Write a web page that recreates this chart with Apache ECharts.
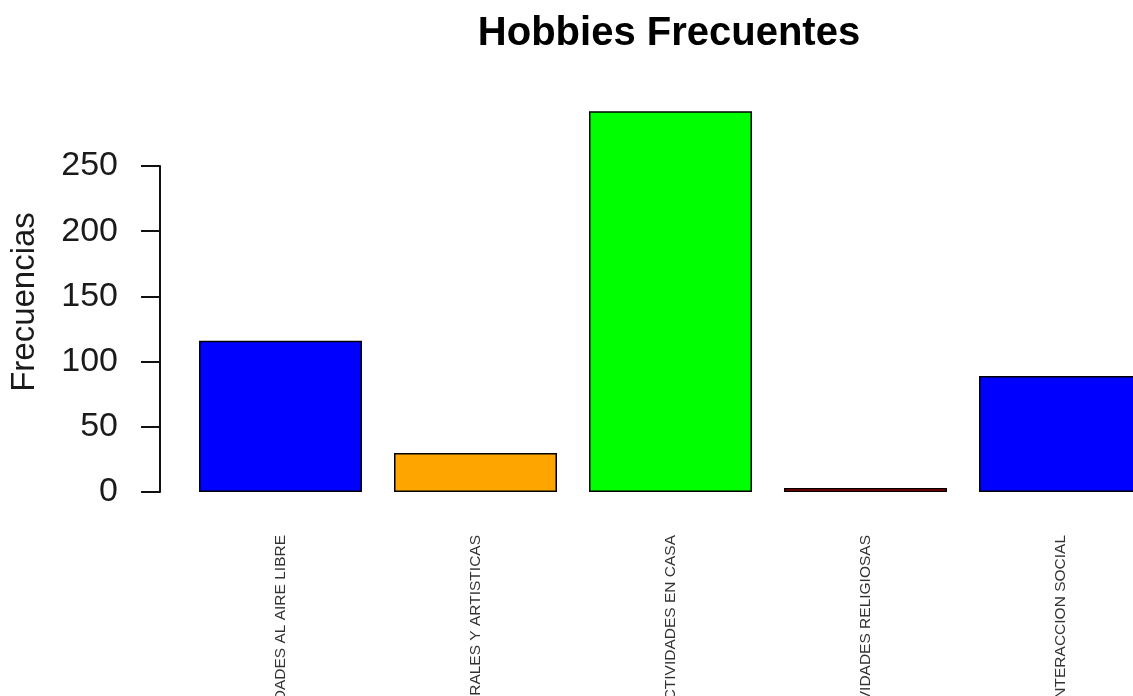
<!DOCTYPE html>
<html>
<head>
<meta charset="utf-8">
<title>Hobbies Frecuentes</title>
<script src="https://cdn.jsdelivr.net/npm/echarts@6/dist/echarts.min.js"></script>
<style>
  html, body { margin: 0; padding: 0; background: #fff; }
  #main { width: 1133px; height: 696px; }
</style>
</head>
<body>
<div id="main"></div>
<script>
// hobbies y su frecuencia
var categorias = ['ACTIVIDADES AL AIRE LIBRE', 'ACTIVIDADES CULTURALES Y ARTISTICAS', 'ACTIVIDADES EN CASA', 'ACTIVIDADES RELIGIOSAS', 'INTERACCION SOCIAL']
var frecuencias = [116, 30, 292, 3, 89]
var colores = ['#0000FF', '#FFA500', '#00FF00', '#CD0000', '#0000FF']
var ticksY = [0, 50, 100, 150, 200, 250]

var chart = echarts.init(document.getElementById('main'))

var datos = frecuencias.map(function (v, i) {
  return { value: v, itemStyle: { color: colores[i] } }
})

var option = {
  backgroundColor: '#fff',
  animation: false,
  title: {
    text: 'Hobbies Frecuentes',
    left: 669,
    top: 14,
    padding: 0,
    textAlign: 'center',
    textStyle: {
      fontFamily: 'Liberation Sans',
      fontWeight: 'bold',
      fontSize: 40,
      color: '#000'
    }
  },
  graphic: [{
    type: 'text',
    x: 25,
    y: 302,
    rotation: Math.PI / 2,
    style: {
      text: 'Frecuencias',
      fontFamily: 'Liberation Sans',
      fontSize: 33,
      fill: '#1a1a1a',
      textAlign: 'center',
      textVerticalAlign: 'middle'
    }
  }],
  grid: {
    left: 183,
    top: 166,
    width: 975,
    height: 326,
    outerBoundsMode: 'none'
  },
  xAxis: {
    type: 'category',
    data: categorias,
    axisLine: { show: false },
    axisTick: { show: false },
    axisLabel: {
      interval: 0,
      rotate: 90,
      margin: 43,
      fontFamily: 'Liberation Sans',
      fontSize: 15.5,
      color: '#333'
    }
  },
  yAxis: {
    type: 'value',
    min: ticksY[0],
    max: ticksY[ticksY.length - 1],
    interval: 50,
    offset: 23,
    splitLine: { show: false },
    axisLine: { show: true, lineStyle: { color: '#111', width: 2 } },
    axisTick: { show: true, length: 19, lineStyle: { color: '#111', width: 2 } },
    axisLabel: {
      margin: 42,
      fontFamily: 'Liberation Sans',
      fontSize: 34,
      color: '#1a1a1a'
    }
  },
  series: [{
    type: 'bar',
    data: datos,
    barWidth: 163,
    clip: false,
    itemStyle: { borderColor: '#000', borderWidth: 1.5 }
  }]
}

option && chart.setOption(option)
</script>
</body>
</html>
